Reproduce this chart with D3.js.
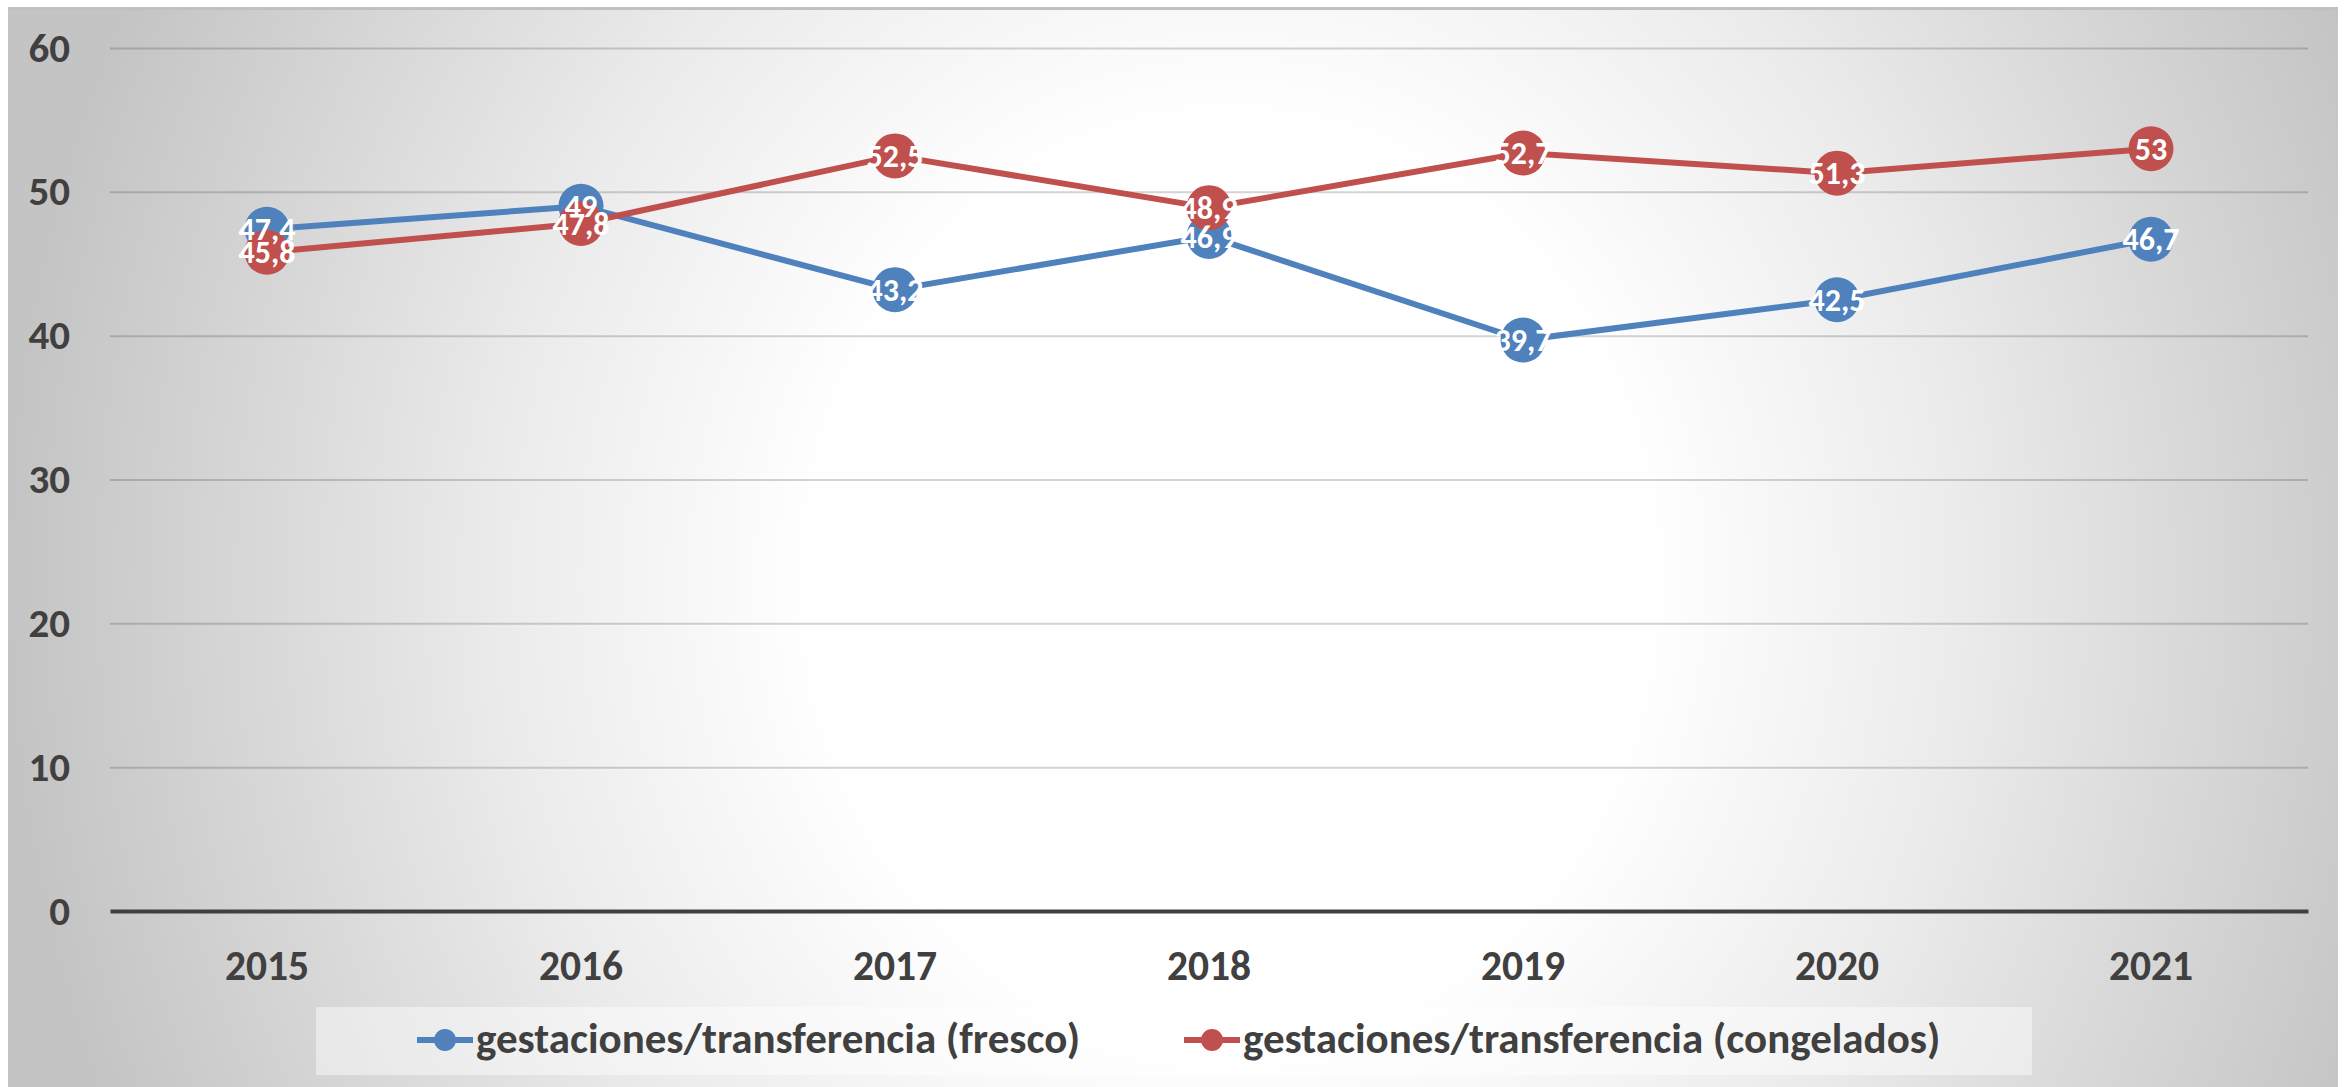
<!DOCTYPE html>
<html>
<head>
<meta charset="utf-8">
<script src="https://cdn.jsdelivr.net/npm/d3@7"></script>
<style>
  body { margin: 0; background: #fff; }
  svg text { font-family: Carlito, Calibri, "Liberation Sans Narrow", "Open Sans", sans-serif; font-weight: bold; }
</style>
</head>
<body>
<svg id="chart"></svg>
<script>
const years = ['2015', '2016', '2017', '2018', '2019', '2020', '2021']
const fresco = [47.4, 49, 43.2, 46.9, 39.7, 42.5, 46.7]
const congelados = [45.8, 47.8, 52.5, 48.9, 52.7, 51.3, 53]
const yTicks = [0, 10, 20, 30, 40, 50, 60]
const seriesNames = ['gestaciones/transferencia (fresco)', 'gestaciones/transferencia (congelados)']
const seriesColors = ['#4f81bd', '#c0504d']

const width = 2346
const height = 1087
const plotLeft = 110, plotRight = 2308, plotTop = 48, plotBottom = 911

const svg = d3.select('#chart')
  .attr('width', width)
  .attr('height', height)

// background gradient like the office chart area
const defs = svg.append('defs')
const grad = defs.append('radialGradient')
  .attr('id', 'bg')
  .attr('gradientUnits', 'userSpaceOnUse')
  .attr('cx', 1230).attr('cy', 580).attr('r', 1220)
  .attr('gradientTransform', 'translate(1230,580) scale(1,1.1) translate(-1230,-580)')
grad.append('stop').attr('offset', '0%').attr('stop-color', '#ffffff')
grad.append('stop').attr('offset', '34%').attr('stop-color', '#ffffff')
grad.append('stop').attr('offset', '60%').attr('stop-color', '#ebebeb')
grad.append('stop').attr('offset', '100%').attr('stop-color', '#c4c4c4')

svg.append('rect')
  .attr('x', 8).attr('y', 8)
  .attr('width', 2330).attr('height', height - 8)
  .attr('fill', 'url(#bg)')
svg.append('line')
  .attr('x1', 8).attr('x2', 2338).attr('y1', 8.5).attr('y2', 8.5)
  .attr('stroke', '#c0c0c0').attr('stroke-width', 3)

let x = d3.scaleBand().domain(years).range([plotLeft, plotRight])
let y = d3.scaleLinear().domain([0, 60]).range([plotBottom, plotTop])

// gridlines
svg.append('g')
  .attr('class', 'grid')
  .attr('transform', `translate(${plotLeft},0)`)
  .call(d3.axisLeft(y).tickValues(yTicks.slice(1)).tickSize(-(plotRight - plotLeft)).tickFormat(''))
  .call(g => g.select('.domain').remove())
  .call(g => g.selectAll('line').attr('stroke', '#000').attr('stroke-opacity', 0.17).attr('stroke-width', 2))

// y labels
svg.append('g')
  .attr('transform', `translate(${plotLeft},0)`)
  .call(d3.axisLeft(y).tickValues(yTicks).tickSize(0).tickPadding(40))
  .call(g => g.select('.domain').remove())
  .call(g => g.selectAll('text').attr('font-size', 41).attr('fill', '#404040'))

// x axis
svg.append('g')
  .attr('transform', `translate(0,${plotBottom})`)
  .call(d3.axisBottom(x).tickSize(0).tickPadding(40))
  .call(g => g.select('.domain').attr('stroke', '#404040').attr('stroke-width', 4))
  .call(g => g.selectAll('text').attr('font-size', 41.5).attr('fill', '#404040'))

let line = d3.line()
  .x((d, i) => x(years[i]) + x.bandwidth() / 2)
  .y(d => y(d))

let allSeries = [fresco, congelados]

allSeries.forEach((values, s) => {
  svg.append('path')
    .datum(values)
    .attr('d', line)
    .attr('fill', 'none')
    .attr('stroke', seriesColors[s])
    .attr('stroke-width', 6)
    .attr('stroke-linejoin', 'round')

  svg.append('g')
    .selectAll('circle')
    .data(values)
    .enter().append('circle')
    .attr('cx', (d, i) => x(years[i]) + x.bandwidth() / 2)
    .attr('cy', d => y(d))
    .attr('r', 22.5)
    .attr('fill', seriesColors[s])
})

allSeries.forEach((values, s) => {
  svg.append('g')
    .selectAll('text')
    .data(values)
    .enter().append('text')
    .attr('x', (d, i) => x(years[i]) + x.bandwidth() / 2)
    .attr('y', d => y(d))
    .attr('dy', '0.35em')
    .attr('text-anchor', 'middle')
    .attr('font-size', 32)
    .attr('fill', '#fff')
    .text(d => String(d).replace('.', ','))
})

// legend
let legend = svg.append('g')
legend.append('rect')
  .attr('x', 316).attr('y', 1007)
  .attr('width', 1716).attr('height', 68)
  .attr('fill', '#ffffff').attr('fill-opacity', 0.45)

let legendX = [417, 1184]
seriesNames.forEach((name, s) => {
  let g = legend.append('g').attr('transform', `translate(${legendX[s]},1040)`)
  g.append('line')
    .attr('x1', 0).attr('x2', 56)
    .attr('stroke', seriesColors[s]).attr('stroke-width', 6)
  g.append('circle').attr('cx', 28).attr('r', 11).attr('fill', seriesColors[s])
  g.append('text')
    .attr('x', 59).attr('y', 13)
    .attr('font-size', 43)
    .attr('fill', '#404040')
    .text(name)
})
</script>
</body>
</html>
